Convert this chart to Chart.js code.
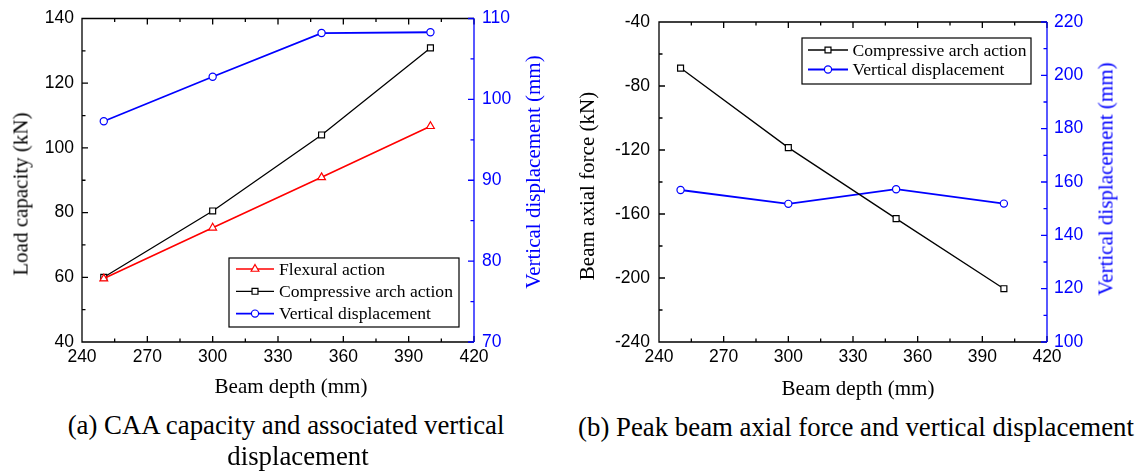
<!DOCTYPE html>
<html>
<head>
<meta charset="utf-8">
<script src="https://cdn.jsdelivr.net/npm/chart.js"></script>
<style>
  html, body { margin: 0; padding: 0; background: #fff; }
  #page { position: relative; width: 1138px; height: 472px; overflow: hidden; }
  canvas { position: absolute; top: 0; }
  .lbl { position: absolute; white-space: nowrap; font-family: "Liberation Serif", "Times New Roman", serif;
         line-height: 1; color: #000; transform: translate(-50%, -50%); }
  .axis { font-size: 21px; }
  .vert { transform: translate(-50%, -50%) rotate(-90deg); }
  .blue { color: #0000ff; }
  .cap { font-size: 26.8px; }
</style>
</head>
<body>
<div id="page">
  <canvas id="chartA" width="560" height="400" style="left:0px"></canvas>
  <canvas id="chartB" width="568" height="400" style="left:570px"></canvas>

  <div class="lbl axis vert" style="left:21px; top:194px">Load capacity (kN)</div>
  <div class="lbl axis" style="left:291px; top:386px">Beam depth (mm)</div>
  <div class="lbl axis vert blue" style="left:533px; top:172px">Vertical displacement (mm)</div>
  <div class="lbl cap" style="left:286px; top:425px">(a) CAA capacity and associated vertical</div>
  <div class="lbl cap" style="left:298px; top:456px">displacement</div>

  <div class="lbl axis vert" style="left:587px; top:186px">Beam axial force (kN)</div>
  <div class="lbl axis" style="left:858px; top:388px">Beam depth (mm)</div>
  <div class="lbl axis vert blue" style="left:1106px; top:179px">Vertical displacement (mm)</div>
  <div class="lbl cap" style="left:856px; top:427px">(b) Peak beam axial force and vertical displacement</div>
</div>

<script>
// values
var beamDepth = [250, 300, 350, 400];
var flexuralLoad = [59.6, 75.3, 90.9, 106.7];
var caaLoad = [60.0, 80.5, 104.0, 130.9];
var dispA = [97.3, 102.8, 108.2, 108.3];
var axialForce = [-68.8, -118.5, -162.9, -206.7];
var dispB = [157.0, 151.8, 157.3, 151.9];

// tick labels
var depthTicks = [240, 270, 300, 330, 360, 390, 420];
var loadTicks = [40, 60, 80, 100, 120, 140];
var dispTicksA = [70, 80, 90, 100, 110];
var axialTicks = [-240, -200, -160, -120, -80, -40];
var dispTicksB = [100, 120, 140, 160, 180, 200, 220];

var BLUE = '#0000ff', RED = '#ff0000', BLACK = '#000000';
var tickFont = { family: 'Liberation Sans', size: 17.5 };

function pts(xs, ys) {
    return xs.map(function (x, i) { return { x: x, y: ys[i] }; });
}

function fixTicks(arr) {
    return function (scale) {
        scale.ticks = arr.map(function (v) { return { value: v }; });
    };
}

// frame and inward tick marks (major + minor)
var frameTicks = {
    id: 'frameTicks',
    afterDatasetsDraw: function (chart) {
        var ctx = chart.ctx, a = chart.chartArea;
        var sx = chart.scales.x, sl = chart.scales.y, sr = chart.scales.y2;
        ctx.save();
        ctx.lineWidth = 1.3;

        function marks(scale, cb) {
            var t = scale.ticks;
            for (var i = 0; i < t.length; i++) {
                cb(scale.getPixelForValue(t[i].value), 6);
                if (i < t.length - 1) {
                    cb(scale.getPixelForValue((t[i].value + t[i + 1].value) / 2), 3.5);
                }
            }
        }

        ctx.strokeStyle = BLACK;
        ctx.beginPath();
        marks(sx, function (p, len) {
            ctx.moveTo(p, a.bottom); ctx.lineTo(p, a.bottom - len);
            ctx.moveTo(p, a.top); ctx.lineTo(p, a.top + len);
        });
        marks(sl, function (p, len) {
            ctx.moveTo(a.left, p); ctx.lineTo(a.left + len, p);
        });
        ctx.moveTo(a.right, a.top); ctx.lineTo(a.left, a.top);
        ctx.lineTo(a.left, a.bottom); ctx.lineTo(a.right, a.bottom);
        ctx.stroke();

        ctx.strokeStyle = BLUE;
        ctx.beginPath();
        marks(sr, function (p, len) {
            ctx.moveTo(a.right, p); ctx.lineTo(a.right - len, p);
        });
        ctx.moveTo(a.right, a.top); ctx.lineTo(a.right, a.bottom);
        ctx.stroke();
        ctx.restore();
    }
};

// boxed legend inside the plot
var boxLegend = {
    id: 'boxLegend',
    afterDraw: function (chart, args, o) {
        var ctx = chart.ctx;
        ctx.save();
        ctx.fillStyle = '#fff';
        ctx.fillRect(o.x, o.y, o.w, o.h);
        ctx.strokeStyle = BLACK;
        ctx.lineWidth = 1.2;
        ctx.strokeRect(o.x, o.y, o.w, o.h);
        chart.data.datasets.forEach(function (ds, i) {
            var y = o.y + o.first + i * o.step;
            var x0 = o.x + o.sample;
            ctx.strokeStyle = ds.borderColor;
            ctx.lineWidth = ds.borderWidth;
            ctx.beginPath();
            ctx.moveTo(x0, y);
            ctx.lineTo(x0 + o.len, y);
            ctx.stroke();
            ctx.fillStyle = '#fff';
            ctx.lineWidth = ds.pointBorderWidth;
            Chart.helpers.drawPoint(ctx, {
                pointStyle: ds.pointStyle, radius: ds.pointRadius, rotation: 0, borderWidth: ds.pointBorderWidth
            }, x0 + o.len / 2, y);
            ctx.fillStyle = BLACK;
            ctx.font = '17.6px "Liberation Serif"';
            ctx.textBaseline = 'middle';
            ctx.fillText(ds.label, o.x + o.text, y + 1);
        });
        ctx.restore();
    }
};

function series(label, data, color, style, radius, width, axis) {
    return {
        label: label,
        data: data,
        yAxisID: axis,
        borderColor: color,
        borderWidth: width,
        backgroundColor: '#fff',
        pointStyle: style,
        pointRadius: radius,
        pointBorderWidth: 1.2,
        pointBackgroundColor: '#fff',
        pointBorderColor: color,
        tension: 0,
        fill: false
    };
}

function axis(pos, ticks, color, pad, size) {
    var s = {
        type: 'linear',
        position: pos,
        min: ticks[0],
        max: ticks[ticks.length - 1],
        grid: { display: false, drawTicks: false },
        border: { display: false },
        ticks: { padding: pad, color: color, font: tickFont, autoSkip: false },
        afterBuildTicks: fixTicks(ticks)
    };
    if (pos === 'bottom') {
        s.afterFit = function (sc) { sc.height = size; };
    } else {
        s.afterFit = function (sc) { sc.width = size; };
    }
    return s;
}

function baseOptions(top, scales, legend) {
    return {
        responsive: false,
        animation: false,
        layout: { padding: { top: top, left: 0, right: 0, bottom: 0 } },
        plugins: {
            legend: { display: false },
            tooltip: { enabled: false },
            boxLegend: legend
        },
        scales: scales
    };
}

new Chart(document.getElementById('chartA').getContext('2d'), {
    type: 'line',
    data: {
        datasets: [
            series('Flexural action', pts(beamDepth, flexuralLoad), RED, 'triangle', 4.5, 1.6, 'y'),
            series('Compressive arch action', pts(beamDepth, caaLoad), BLACK, 'rect', 4.2, 1.3, 'y'),
            series('Vertical displacement', pts(beamDepth, dispA), BLUE, 'circle', 3.6, 1.8, 'y2')
        ]
    },
    options: baseOptions(18, {
        x: axis('bottom', depthTicks, BLACK, 5, 58),
        y: axis('left', loadTicks, BLACK, 8, 82),
        y2: axis('right', dispTicksA, BLUE, 8, 86)
    }, { x: 229, y: 258, w: 230, h: 69, first: 11, step: 22.3, sample: 7, len: 38, text: 50 }),
    plugins: [frameTicks, boxLegend]
});

new Chart(document.getElementById('chartB').getContext('2d'), {
    type: 'line',
    data: {
        datasets: [
            series('Compressive arch action', pts(beamDepth, axialForce), BLACK, 'rect', 4.2, 1.3, 'y'),
            series('Vertical displacement', pts(beamDepth, dispB), BLUE, 'circle', 3.6, 1.8, 'y2')
        ]
    },
    options: baseOptions(22, {
        x: axis('bottom', depthTicks, BLACK, 5, 58),
        y: axis('left', axialTicks, BLACK, 9, 89),
        y2: axis('right', dispTicksB, BLUE, 7, 91)
    }, { x: 232, y: 38, w: 229, h: 46, first: 12, step: 19.5, sample: 6, len: 40, text: 50.5 }),
    plugins: [frameTicks, boxLegend]
});
</script>
</body>
</html>
